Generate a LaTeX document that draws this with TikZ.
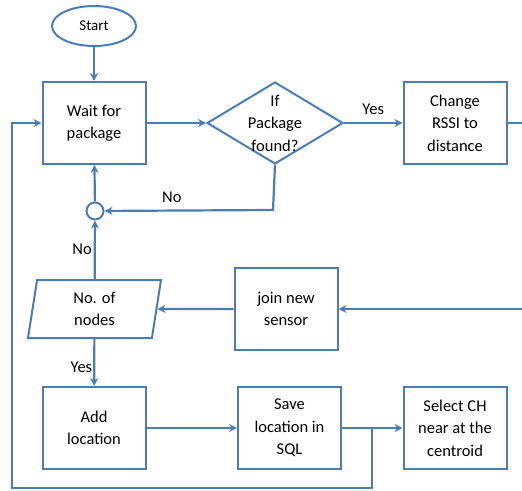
\documentclass[tikz,border=0pt]{standalone}
\usepackage{fontspec}
\setmainfont{Carlito}
\usetikzlibrary{shapes.geometric,arrows.meta}
\definecolor{bl}{RGB}{74,124,185}
\tikzset{
  box/.style={draw=bl,line width=2pt,minimum width=103pt,minimum height=82pt,inner sep=0pt,align=center,font=\fontsize{16.5}{22.5}\selectfont},
  txt/.style={align=center,inner sep=0pt,font=\fontsize{16.5}{22.5}\selectfont},
  lbl/.style={inner sep=0pt,font=\fontsize{16.5}{20}\selectfont},
  conn/.style={draw=bl,line width=2.2pt},
  arr/.style={conn,-{Stealth[length=8pt,width=8pt]}}
}
\begin{document}
\begin{tikzpicture}[x=1pt,y=-1pt]
\useasboundingbox (0,0) rectangle (522,490);
% nodes
\node[draw=bl,line width=2pt,ellipse,minimum width=84pt,minimum height=40pt,inner sep=0pt,font=\fontsize{15}{18}\selectfont] (start) at (94,26) {Start};
\node[box] (wait) at (94,123) {Wait for\\package};
\node[draw=bl,line width=2pt,diamond,minimum width=136pt,minimum height=82pt,inner sep=0pt,aspect=1.66] (dia) at (275,123) {};
\node[txt] (diatxt) at (275,123) {If\\Package\\found?};
\node[box] (rssi) at (455,123) {Change\\RSSI to\\distance};
\node[draw=bl,line width=2pt,circle,minimum size=17pt,inner sep=0pt] (circ) at (95,211) {};
\node[draw=bl,line width=2pt,trapezium,trapezium left angle=75,trapezium right angle=105,trapezium stretches body,minimum width=133pt,minimum height=58pt,inner sep=0pt,align=center,font=\fontsize{16.5}{22.5}\selectfont] (para) at (94.5,309) {No. of\\nodes};
\node[box] (join) at (286,309) {join new\\sensor};
\node[box] (add) at (94,428) {Add\\location};
\node[box] (save) at (289.5,428) {Save\\location in\\SQL};
\node[box] (sel) at (455,428) {Select CH\\near at the\\centroid};
% helper coordinates
\coordinate (rssiR) at (522,123);
\coordinate (joinR) at (522,309);
\coordinate (diaB) at (273,210);
\coordinate (br) at (372,429);
\coordinate (bb) at (372,488);
\coordinate (bl) at (12,488);
\coordinate (tl) at (12,123);
% connectors
\draw[arr] (start) -- (wait);
\draw[arr] (wait) -- (dia);
\draw[arr] (dia) -- node[lbl,above=7pt] {Yes} (rssi);
\draw[conn] (rssi.east) -- (rssiR);
\draw[arr] (dia.south) -- (diaB) -- node[lbl,above=7pt,pos=0.6] {No} (circ);
\draw[arr] (circ) -- (wait);
\draw[arr] (para) -- node[lbl,left=2pt,pos=0.5] {No} (circ);
\draw[arr] (joinR) -- (join);
\draw[arr] (join) -- (para);
\draw[arr] (para) -- node[lbl,left=1pt,pos=0.6] {Yes} (add);
\draw[arr] (add) -- (save);
\draw[arr] (save) -- (sel);
\draw[arr] (br) -- (bb) -- (bl) -- (tl) -- (wait);
\end{tikzpicture}
\end{document}
